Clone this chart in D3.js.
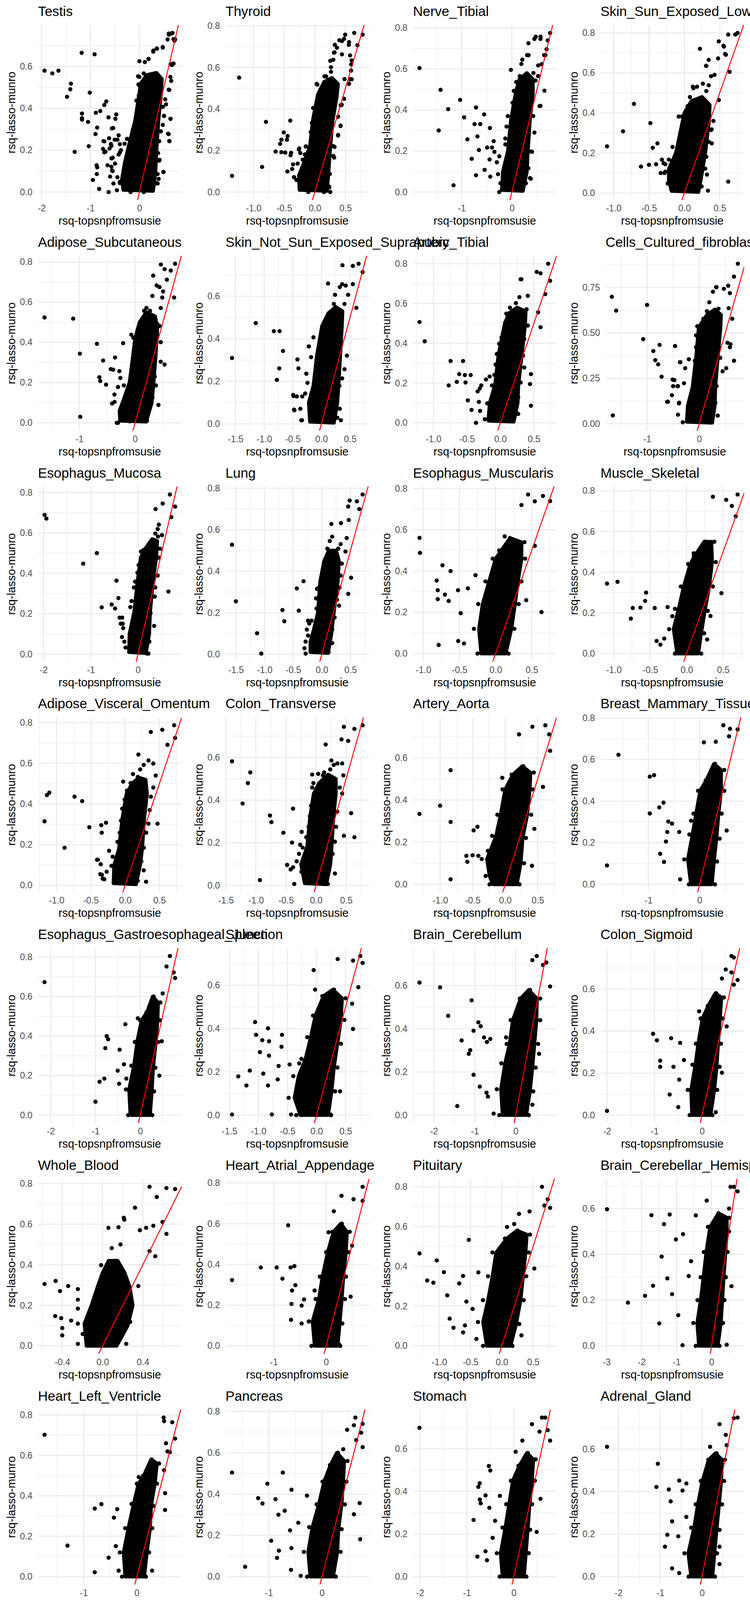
<!DOCTYPE html>
<html>
<head>
<meta charset="utf-8">
<script src="https://cdn.jsdelivr.net/npm/d3@7"></script>
<style>
  body { margin: 0; background: #fff; }
  text { font-family: "Liberation Sans", Arial, Helvetica, sans-serif; }
</style>
</head>
<body>
<svg id="chart"></svg>
<script>
// tissue panels, in facet order (4 per row)
const tissues = [
  "Testis", "Thyroid", "Nerve_Tibial", "Skin_Sun_Exposed_Lower_leg",
  "Adipose_Subcutaneous", "Skin_Not_Sun_Exposed_Suprapubic", "Artery_Tibial", "Cells_Cultured_fibroblasts",
  "Esophagus_Mucosa", "Lung", "Esophagus_Muscularis", "Muscle_Skeletal",
  "Adipose_Visceral_Omentum", "Colon_Transverse", "Artery_Aorta", "Breast_Mammary_Tissue",
  "Esophagus_Gastroesophageal_Junction", "Spleen", "Brain_Cerebellum", "Colon_Sigmoid",
  "Whole_Blood", "Heart_Atrial_Appendage", "Pituitary", "Brain_Cerebellar_Hemisphere",
  "Heart_Left_Ventricle", "Pancreas", "Stomach", "Adrenal_Gland",
  "Brain_Cortex", "Brain_Nucleus_accumbens_basal_ganglia", "Prostate", "Brain_Caudate_basal_ganglia",
  "Brain_Frontal_Cortex_BA9", "Small_Intestine_Terminal_Ileum", "Artery_Coronary", "Brain_Putamen_basal_ganglia",
  "Cells_EBV-transformed_lymphocytes", "Ovary", "Brain_Anterior_cingulate_cortex_BA24", "Brain_Hypothalamus",
  "Liver", "Minor_Salivary_Gland", "Brain_Hippocampus", "Vagina",
  "Brain_Spinal_cord_cervical_c-1", "Uterus", "Brain_Amygdala", "Brain_Substantia_nigra",
  "Kidney_Cortex"
];

const X2 = [-2, -1, 0], X1 = [-1, 0], XH = [-1, -0.5, 0, 0.5], XH15 = [-1.5, -1, -0.5, 0, 0.5];
const Y8 = [0, 0.2, 0.4, 0.6, 0.8], Y6 = [0, 0.2, 0.4, 0.6];

// x-axis breaks per panel
const xTicks = [
  X2, XH, X1, XH,
  X1, XH15, XH, X1,
  X2, XH15, XH, XH,
  XH, XH15, XH, X1,
  X2, XH15, X2, X2,
  [-0.4, 0, 0.4], X1, XH, [-3, -2, -1, 0],
  X1, X1, X2, X2,
  X1, X2, X2, XH,
  XH, X1, XH15, XH,
  [-2, -1, 0, 1], XH15, X2, XH,
  X2, X2, X1, X2,
  X2, X2, XH, X1,
  [-2, -1, 0, 1]
];

// y-axis breaks per panel
const yTicks = [
  Y8, Y8, Y8, Y8,
  Y8, Y8, Y8, [0, 0.25, 0.5, 0.75],
  Y8, Y8, Y8, Y8,
  Y8, Y8, Y8, Y8,
  Y8, Y8, Y8, Y8,
  Y8, Y8, Y8, Y8,
  Y8, Y8, Y8, Y8,
  Y6, Y6, Y6, Y6,
  Y6, Y6, Y6, Y6,
  Y6, Y6, Y6, Y6,
  Y6, Y6, Y6, Y6,
  Y6, Y6, Y6, Y6,
  Y6
];

// outline of the dense, fully overplotted cloud of each panel (rsq-topsnpfromsusie, rsq-lasso-munro)
const cores = [
  [[-.33,.01],[.28,.005],[.33,.1],[.35,.2],[.39,.34],[.44,.46],[.46,.54],[.35,.57],[.15,.56],[.03,.52],[-.01,.46],[-.09,.34],[-.22,.22],[-.3,.14],[-.36,.06]],
  [[-.25,.01],[.2,.005],[.23,.12],[.25,.2],[.29,.34],[.36,.46],[.38,.52],[.28,.55],[.15,.53],[.05,.47],[-.03,.35],[-.08,.22],[-.18,.14],[-.26,.08]],
  [[-.2,.01],[.22,.005],[.3,.1],[.32,.2],[.36,.35],[.42,.48],[.42,.55],[.3,.58],[.15,.55],[.08,.49],[-.02,.35],[-.08,.2],[-.18,.1]],
  [[-.18,.01],[.2,.005],[.25,.1],[.3,.21],[.35,.36],[.36,.44],[.25,.48],[.1,.46],[0,.4],[-.06,.3],[-.12,.2],[-.22,.12],[-.22,.06]],
  [[-.27,.01],[.2,.005],[.3,.1],[.33,.19],[.37,.33],[.4,.47],[.36,.53],[.2,.55],[.08,.5],[0,.42],[-.04,.33],[-.1,.2],[-.2,.12],[-.28,.06]],
  [[-.2,.01],[.22,.005],[.28,.1],[.3,.18],[.33,.32],[.36,.46],[.37,.53],[.25,.55],[.12,.52],[.01,.46],[-.08,.32],[-.14,.18],[-.22,.1]],
  [[-.18,.01],[.2,.005],[.26,.1],[.27,.19],[.32,.34],[.37,.49],[.38,.56],[.25,.58],[.12,.55],[.06,.49],[-.03,.34],[-.08,.19],[-.16,.1]],
  [[-.24,.01],[.25,.005],[.3,.1],[.31,.2],[.36,.37],[.41,.53],[.42,.6],[.3,.63],[.15,.6],[-.01,.53],[-.06,.37],[-.13,.2],[-.22,.1]],
  [[-.19,.01],[.17,.005],[.24,.1],[.26,.21],[.32,.36],[.39,.48],[.41,.56],[.3,.57],[.15,.52],[.06,.48],[-.01,.36],[-.08,.21],[-.18,.1]],
  [[-.2,.01],[.11,.005],[.17,.1],[.21,.2],[.28,.35],[.3,.45],[.25,.5],[.12,.5],[.04,.45],[-.03,.35],[-.07,.2],[-.14,.12],[-.2,.06]],
  [[-.2,0],[.14,0],[.22,.12],[.27,.24],[.31,.35],[.36,.46],[.36,.54],[.2,.56],[.08,.5],[0,.46],[-.09,.35],[-.18,.24],[-.23,.12]],
  [[-.13,0],[.16,0],[.2,.1],[.25,.21],[.31,.33],[.35,.45],[.34,.55],[.24,.55],[.11,.48],[.05,.44],[-.04,.33],[-.11,.22],[-.18,.12]],
  [[-.17,.01],[.16,.005],[.22,.1],[.25,.18],[.28,.33],[.32,.45],[.3,.52],[.2,.53],[.1,.5],[.02,.45],[-.04,.33],[-.09,.18],[-.16,.1]],
  [[-.19,.01],[.17,.005],[.24,.1],[.26,.18],[.29,.32],[.33,.43],[.33,.5],[.2,.52],[.05,.48],[-.04,.43],[-.1,.32],[-.15,.18],[-.25,.1]],
  [[-.19,0],[.18,0],[.24,.1],[.27,.22],[.34,.33],[.38,.45],[.39,.53],[.26,.56],[.12,.52],[0,.45],[-.07,.33],[-.14,.23],[-.28,.12],[-.24,.04]],
  [[-.17,0],[.24,0],[.28,.11],[.33,.22],[.37,.34],[.42,.45],[.42,.55],[.28,.58],[.13,.5],[.01,.45],[-.07,.34],[-.14,.24],[-.23,.12]],
  [[-.22,0],[.22,0],[.26,.12],[.29,.24],[.35,.37],[.39,.48],[.4,.57],[.28,.6],[.15,.52],[.03,.48],[-.07,.37],[-.14,.25],[-.25,.13]],
  [[-.28,0],[.2,0],[.26,.11],[.3,.22],[.36,.33],[.42,.44],[.44,.54],[.28,.58],[.12,.55],[-.02,.46],[-.1,.36],[-.19,.26],[-.31,.18],[-.38,.08]],
  [[-.32,0],[.26,0],[.35,.11],[.41,.22],[.46,.33],[.51,.44],[.52,.54],[.32,.58],[.12,.54],[-.07,.44],[-.15,.33],[-.26,.24],[-.36,.12]],
  [[-.21,0],[.18,0],[.26,.12],[.31,.23],[.34,.34],[.38,.46],[.41,.56],[.28,.58],[.13,.52],[.01,.46],[-.08,.34],[-.14,.24],[-.23,.12]],
  [[-.16,0],[.14,0],[.25,.1],[.3,.2],[.27,.29],[.22,.36],[.15,.42],[.06,.42],[0,.36],[-.05,.29],[-.11,.2],[-.18,.11]],
  [[-.22,0],[.22,0],[.26,.11],[.3,.23],[.33,.34],[.38,.46],[.4,.56],[.28,.6],[.14,.56],[.03,.46],[-.07,.34],[-.14,.23],[-.26,.12]],
  [[-.24,0],[.14,0],[.23,.11],[.3,.23],[.34,.35],[.38,.47],[.4,.56],[.24,.58],[.08,.54],[-.09,.47],[-.15,.35],[-.22,.23],[-.3,.12]],
  [[-.36,0],[.18,0],[.27,.1],[.31,.2],[.35,.3],[.4,.41],[.44,.5],[.44,.56],[.2,.58],[-.04,.52],[-.15,.41],[-.23,.3],[-.31,.2],[-.41,.1]],
  [[-.22,0],[.14,0],[.19,.12],[.25,.24],[.27,.35],[.34,.46],[.38,.56],[.27,.58],[.13,.5],[.03,.46],[-.06,.36],[-.16,.24],[-.25,.12]],
  [[-.22,0],[.21,0],[.29,.12],[.31,.23],[.37,.35],[.4,.46],[.42,.56],[.28,.6],[.16,.54],[.04,.46],[-.06,.35],[-.18,.24],[-.26,.12]],
  [[-.24,0],[.22,0],[.26,.11],[.3,.22],[.34,.34],[.39,.45],[.42,.55],[.28,.58],[.12,.52],[-.02,.45],[-.1,.34],[-.18,.23],[-.28,.11]],
  [[-.26,0],[.25,0],[.3,.11],[.35,.22],[.41,.34],[.46,.45],[.48,.55],[.32,.58],[.16,.55],[.01,.45],[-.1,.34],[-.19,.23],[-.33,.11]],
  [[-.18,0],[.18,0],[.29,.1],[.33,.2],[.37,.3],[.43,.41],[.48,.5],[.36,.54],[.16,.5],[-.01,.41],[-.09,.3],[-.16,.2],[-.26,.1]],
  [[-.24,0],[.22,0],[.27,.1],[.33,.2],[.37,.32],[.43,.43],[.45,.52],[.32,.56],[.13,.52],[-.04,.43],[-.12,.32],[-.19,.2],[-.28,.1]],
  [[-.26,0],[.22,0],[.31,.1],[.36,.22],[.39,.33],[.46,.45],[.49,.55],[.32,.6],[.14,.55],[-.05,.45],[-.14,.33],[-.22,.22],[-.33,.1]],
  [[-.24,0],[.16,0],[.21,.09],[.24,.2],[.29,.3],[.34,.41],[.37,.5],[.24,.52],[.07,.48],[-.09,.41],[-.19,.3],[-.26,.2],[-.33,.1]],
  [[-.14,0],[.11,0],[.22,.1],[.29,.2],[.34,.3],[.4,.4],[.42,.48],[.24,.5],[.03,.45],[-.01,.4],[-.1,.3],[-.16,.2],[-.22,.1]],
  [[-.22,0],[.16,0],[.24,.1],[.3,.2],[.36,.31],[.41,.42],[.45,.52],[.32,.56],[.12,.52],[-.04,.42],[-.12,.31],[-.2,.2],[-.3,.1]],
  [[-.17,0],[.14,0],[.2,.1],[.26,.21],[.3,.32],[.35,.43],[.37,.5],[.24,.52],[.08,.5],[-.07,.43],[-.15,.32],[-.21,.21],[-.27,.1]],
  [[-.21,0],[.13,0],[.22,.1],[.27,.21],[.33,.32],[.37,.43],[.4,.5],[.2,.52],[.04,.5],[-.07,.43],[-.17,.32],[-.24,.21],[-.3,.1]],
  [[-.35,0],[.23,0],[.34,.1],[.41,.22],[.47,.33],[.53,.45],[.56,.56],[.36,.6],[.12,.55],[-.18,.45],[-.3,.33],[-.41,.22],[-.52,.1]],
  [[-.19,0],[.18,0],[.24,.1],[.29,.2],[.34,.3],[.39,.41],[.42,.5],[.28,.54],[.08,.5],[-.12,.41],[-.22,.3],[-.29,.2],[-.31,.1]],
  [[-.26,0],[.16,0],[.3,.1],[.39,.2],[.45,.31],[.5,.42],[.53,.52],[.32,.56],[.08,.52],[-.09,.42],[-.17,.31],[-.25,.2],[-.35,.1]],
  [[-.2,0],[.14,0],[.2,.1],[.25,.2],[.3,.32],[.34,.43],[.37,.5],[.2,.52],[-.01,.48],[-.14,.43],[-.23,.32],[-.34,.2],[-.35,.1]],
  [[-.2,0],[.12,0],[.23,.1],[.3,.21],[.36,.31],[.4,.42],[.4,.5],[.24,.52],[.07,.48],[-.02,.42],[-.1,.31],[-.2,.21],[-.28,.1]],
  [[-.34,0],[.22,0],[.31,.11],[.37,.22],[.42,.34],[.47,.45],[.5,.55],[.32,.58],[.08,.52],[-.14,.45],[-.25,.34],[-.35,.22],[-.44,.11]],
  [[-.25,0],[.1,0],[.21,.1],[.29,.21],[.35,.32],[.41,.43],[.44,.52],[.28,.55],[.08,.5],[-.08,.43],[-.19,.32],[-.27,.21],[-.35,.1]],
  [[-.28,0],[.18,0],[.22,.1],[.28,.2],[.33,.31],[.37,.42],[.4,.5],[.24,.54],[.05,.5],[-.08,.42],[-.17,.31],[-.25,.2],[-.35,.1]],
  [[-.24,0],[.08,0],[.21,.09],[.28,.18],[.35,.28],[.43,.38],[.45,.46],[.28,.5],[.07,.46],[-.09,.38],[-.16,.28],[-.23,.18],[-.28,.09]],
  [[-.34,0],[.15,0],[.22,.1],[.28,.2],[.34,.31],[.4,.42],[.44,.52],[.28,.56],[.04,.52],[-.11,.42],[-.2,.31],[-.3,.2],[-.38,.1]],
  [[-.18,0],[.12,0],[.19,.09],[.25,.19],[.29,.29],[.33,.38],[.34,.45],[.15,.48],[-.05,.45],[-.18,.38],[-.27,.29],[-.32,.19],[-.27,.09]],
  [[-.23,0],[.15,0],[.24,.09],[.29,.19],[.36,.29],[.41,.39],[.43,.48],[.24,.52],[.03,.48],[-.17,.39],[-.26,.29],[-.33,.19],[-.38,.09]],
  []
];

// individually visible points of each panel (rsq-topsnpfromsusie, rsq-lasso-munro)
const scatter = [
  [[-1.94,.58],[-1.78,.567],[-1.655,.58],[-1.18,.665],[-.916,.658],[-1.4,.518],[-1.413,.491],[-1.48,.455],[-1.015,.475],[-.677,.433],[-.717,.416],[-1.174,.375],[-1.174,.353],[-1.174,.346],[-.89,.379],[-.8,.387],[-1.05,.335],[-.632,.357],[-.473,.371],[-.491,.35],[-.863,.308],[-.563,.304],[-.536,.306],[-.898,.277],[-.717,.242],[-1.036,.219],[-1.323,.192],[-.744,.206],[-.717,.19],[-.505,.25],[-.425,.271],[-.584,.23],[-.611,.208],[-.651,.128],[-.876,.128],[-.863,.118],[-.87,.086],[-.951,.058],[-.823,.015],[-.63,0],[-.46,.009],[-.598,.074],[-.531,.041],[-.398,.049],[-.558,.103],[-.571,.161],[-.398,.19],[0,.625],[-.027,.553],[0,.509],[-.013,.46],[-.061,.437],[-.058,.364],[.717,.723],[.677,.76],[.603,.752],[.73,.73],[.637,.611],[.651,.531],[.611,.488],[.544,.419],[.637,.35],[.598,.277],[.611,.244],[.505,.364],[.491,.096],[.412,.154],[.393,.063],[.372,.041],[.292,.03],[.186,.009],[.478,.69],[.359,.685],[.287,.676],[.186,.636],
   [-.18,.257],[-.254,.254],[-.132,.3],[-.049,.364],[-.034,.436],[-.02,.514],[0,.55],[.088,.567],[.112,.621],[.185,.636],[.283,.671],[.356,.686],[.478,.693],[.576,.729],[.6,.757],[.649,.757],[.698,.731],[.663,.607],[.698,.614],[.634,.55],[.6,.489],[.527,.443],[.478,.407],[.634,.35],[.502,.364],[.478,.321],[.439,.29],[.585,.279],[.615,.243],[.405,.243],[.38,.186],[.405,.15],[.493,.096],[.371,.086],[.356,.043],[.21,.007],[.088,0],[-.18,0],[-.302,.017],[-.4,.043],[-.449,.071],[-.546,.1],[-.498,.136],[-.424,.179],[-.4,.229],[-.302,.231],[-.376,.2],[-.546,.164],[-.571,.121],[-.62,.257],[-.571,.221],[-.449,.25],[-.693,.193],[-.732,.243]],
  [[-1.35,.078],[-1.234,.551],[-.859,.121],[-.797,.338],[-.4,.344],[-.506,.287],[-.443,.27],[-.544,.252],[-.565,.232],[-.454,.252],[-.639,.195],[-.544,.192],[-.481,.19],[-.386,.189],[-.395,.177],[-.447,.099],[-.369,.111],[-.354,.133],[-.338,.071],[-.253,.21],[-.236,.188],[-.148,.219],[-.158,.181],[-.196,.156],[.253,0],[.232,.027],[.496,.758],[.643,.766],[.78,.758],[.696,.707],[.559,.722],[.443,.727],[.327,.709],[.312,.671],[.443,.663],[.601,.634],[.591,.585],[.601,.543],[.559,.522],[.475,.449],[.422,.418],[.38,.363],[.422,.32],[.38,.272],[.316,.166],[.306,.221],[.253,.632],[.158,.557],[.042,.517],[-.021,.404],[.485,.544],[.264,.601],
   [-.28,.137],[-.338,.072],[-.299,.058],[-.241,.041],[-.221,.017],[-.144,.22],[-.163,.181],[-.26,.205],[-.066,.289],[-.047,.333],[-.027,.405],[.031,.521],[.089,.492],[.167,.528],[.186,.557],[.264,.579],[.303,.637],[.322,.673],[.361,.695],[.4,.731],[.478,.738],[.555,.709],[.575,.658],[.594,.615],[.575,.543],[.555,.521],[.478,.449],[.439,.42],[.419,.318],[.381,.275],[.322,.217],[.303,.174],[.245,.087],[.237,.022],[.148,0],[-.105,0]],
  [[-1.84,.604],[-1.42,.498],[-1.03,.449],[-1.27,.404],[-.714,.412],[-1.457,.3],[-.952,.364],[-.552,.378],[-.743,.331],[-.629,.331],[-.886,.257],[-.686,.271],[-.438,.312],[-1.162,.033],[-.714,.082],[-.8,.162],[-.657,.205],[-.362,.248],[-.43,.075],[-.543,.108],[-.02,.595],[.762,.775],[.476,.757],[.571,.757],[.714,.739],[.667,.667],[.648,.494],[.552,.419],[.381,.198],[.362,.068],[.333,.667],[.19,.624],[.524,.617],[.43,.58],
   [-.493,.217],[-.396,.217],[-.348,.196],[-.444,.159],[-.3,.145],[-.251,.174],[-.275,.087],[-.227,.043],[-.251,0],[-.13,.232],[-.13,.261],[-.106,.319],[-.082,.37],[.014,.435],[.039,.493],[.087,.536],[.159,.565],[.208,.645],[.304,.667],[.329,.725],[.449,.746],[.57,.746],[.691,.696],[.643,.667],[.594,.623],[.522,.565],[.473,.543],[.57,.42],[.425,.37],[.449,.29],[.401,.196],[.329,.116],[.377,.065],[.28,.043],[.184,.007]],
  [[-1.093,.233],[-.867,.308],[-.713,.445],[-.48,.349],[-.447,.226],[-.38,.248],[-.613,.132],[-.5,.141],[-.4,.144],[-.293,.149],[-.167,.23],[-.28,.1],[.62,.057],[.333,.012],[.22,.72],[.487,.757],[.72,.791],[.62,.791],[.553,.735],[.587,.69],[.64,.605],[.487,.464],[.387,.318],[.387,.248],[.32,.092],[.307,.635],[.12,.531],[-.08,.382],[.253,.122],[.753,.799],
   [-.334,.1],[-.268,.107],[-.318,.167],[-.268,.144],[-.219,.167],[-.169,.152],[-.235,.048],[-.185,.018],[-.086,.211],[-.07,.256],[-.053,.3],[-.02,.345],[.013,.39],[-.036,.382],[.046,.434],[.079,.479],[.129,.523],[.179,.531],[.262,.546],[.311,.509],[.344,.538],[.377,.583],[.427,.59],[.311,.635],[.344,.665],[.477,.672],[.56,.731],[.576,.694],[.411,.36],[.377,.315],[.344,.256],[.311,.181],[.295,.122],[.228,.092],[.245,.033],[.162,.01]],
  [[-1.624,.524],[-1.11,.518],[-.99,.344],[-.983,.03],[-.684,.393],[-.573,.31],[-.359,.325],[-.436,.267],[-.393,.264],[-.64,.227],[-.624,.208],[-.52,.19],[-.282,.257],[-.368,.104],[-.308,0],[-.068,.438],[-.214,.396],[.462,.787],[.718,.791],[.53,.764],[.64,.757],[.325,.732],[.57,.712],[.7,.623],[.487,.623],[.214,.01],[.419,.089],[.53,.29],[.4,.49],
   [-.328,0],[-.413,.096],[-.37,.141],[-.306,.178],[-.264,.223],[-.2,.186],[-.157,.126],[-.094,.178],[-.072,.23],[-.051,.275],[-.03,.334],[-.009,.393],[-.03,.423],[.034,.43],[.119,.505],[.162,.557],[.204,.571],[.268,.557],[.311,.631],[.387,.683],[.438,.675],[.502,.653],[.46,.571],[.438,.482],[.396,.438],[.46,.401],[.46,.304],[.353,.23],[.374,.186],[.311,.126],[.204,.059],[.14,.007],[-.094,.007]],
  [[-1.56,.31],[-1.145,.474],[-.83,.436],[-.73,.436],[-.67,.343],[-.735,.261],[-.777,.207],[-.418,.303],[-.4,.261],[-.485,.131],[-.334,.129],[-.476,.067],[-.35,.017],[-.217,.364],[.117,.66],[.368,.746],[.55,.743],[.65,.753],[.72,.714],[.61,.546],[.55,.657],[.34,.017],
   [-.492,.136],[-.429,.129],[-.471,.064],[-.367,.071],[-.338,.017],[-.263,.236],[-.221,.364],[-.179,.314],[-.242,.193],[-.283,.143],[-.179,.136],[-.138,.407],[-.054,.329],[-.013,.371],[.008,.436],[.05,.471],[.113,.5],[.175,.521],[.217,.564],[.238,.607],[.321,.643],[.363,.657],[.425,.65],[.467,.607],[.404,.564],[.446,.321],[.404,.257],[.363,.214],[.313,.179],[.321,.071],[.279,.029],[.175,.014]],
  [[-1.207,.507],[-1.13,.41],[-.743,.311],[-.557,.311],[-.771,.188],[-.65,.206],[-.614,.245],[-.53,.24],[-.443,.24],[-.52,.203],[-.486,.113],[-.43,.065],[-.364,0],[-.307,.173],[.314,.722],[.714,.8],[.543,.759],[.6,.752],[.743,.714],[.671,.647],[.564,.556],[.6,.481],[.457,.245],[.457,.086],[.443,.195],
   [-.339,.158],[-.285,.188],[-.214,.218],[-.16,.233],[-.321,.105],[-.303,.06],[-.232,.018],[-.196,.098],[-.125,.188],[-.089,.241],[-.071,.293],[-.053,.346],[-.018,.398],[.018,.429],[.071,.504],[.089,.549],[.143,.579],[.214,.534],[.232,.602],[.285,.632],[.303,.722],[.41,.639],[.392,.571],[.41,.489],[.357,.421],[.339,.338],[.357,.278],[.303,.203],[.267,.128],[.267,.045],[.16,.008]],
  [[-1.676,.699],[-1.593,.623],[-1.657,.046],[-1,.654],[-1.074,.466],[-.88,.4],[-.76,.434],[-.843,.35],[-.787,.327],[-.722,.259],[-.6,.121],[-.463,.428],[-.37,.339],[-.51,.243],[-.417,.207],[-.389,.112],[.741,.881],[.667,.81],[.556,.76],[.324,.752],[.667,.347],[.37,.633],[.6,.438],[.185,.586],
   [-.616,.121],[-.523,.157],[-.5,.207],[-.477,.24],[-.407,.207],[-.384,.116],[-.407,.05],[-.315,.008],[-.292,.223],[-.269,.306],[-.199,.355],[-.361,.339],[-.083,.347],[-.06,.421],[-.06,.487],[-.037,.537],[.079,.578],[.148,.62],[.194,.669],[.264,.727],[.333,.752],[.472,.743],[.588,.719],[.565,.636],[.634,.578],[.542,.446],[.588,.421],[.403,.363],[.519,.306],[.449,.289],[.333,.207],[.31,.116],[.356,.045]],
  [[-1.98,.689],[-1.94,.671],[-.87,.5],[-1.16,.448],[-.455,.364],[-.414,.278],[-.768,.232],[-.556,.246],[-.485,.226],[-.333,.181],[-.323,.151],[.646,.31],[.677,.79],[.788,.73],[.525,.745],[.374,.718],[.707,.678],[.424,.582],[.343,.14],[.222,.003],
   [-.388,.181],[-.363,.151],[-.312,.129],[-.338,.085],[-.287,.062],[-.262,.033],[-.161,.233],[-.136,.263],[-.086,.33],[-.06,.359],[-.01,.404],[.015,.441],[.065,.508],[.116,.515],[.191,.522],[.257,.545],[.317,.567],[.368,.597],[.418,.619],[.443,.641],[.509,.589],[.468,.522],[.443,.478],[.418,.389],[.368,.33],[.358,.285],[.267,.203],[.217,.137],[.242,.062],[.191,.003]],
  [[-1.567,.528],[-1.5,.255],[-1.13,.101],[-1.056,.003],[-.687,.213],[-.654,.159],[-.402,.21],[-.318,.352],[-.436,.317],[-.084,.315],[-.1,.269],[.486,.741],[.612,.737],[.712,.77],[.461,.712],[.654,.7],[.168,.628],[.335,.632],[.469,.647],[.511,.369],[.461,.291],[.302,.234],
   [-.303,.029],[-.282,.061],[-.24,.09],[-.261,.119],[-.219,.148],[-.24,.162],[-.177,.162],[-.282,.003],[-.072,.271],[-.093,.22],[-.051,.321],[-.008,.35],[.034,.423],[.076,.452],[.097,.509],[.139,.546],[.181,.567],[.223,.495],[.287,.509],[.329,.531],[.434,.56],[.413,.495],[.35,.437],[.329,.379],[.308,.321],[.265,.263],[.223,.177],[.181,.119],[.181,.054],[.118,.01]],
  [[-1.053,.561],[-1.046,.488],[-.735,.428],[-.623,.4],[-.815,.354],[-.801,.307],[-.702,.286],[-.649,.255],[-.801,.264],[-.52,.307],[-.384,.316],[-.278,.38],[-.483,.196],[-.517,.061],[-.788,.042],[-.437,.049],[.45,.771],[.656,.764],[.543,.738],[.755,.739],[.358,.72],[.636,.201],[.424,.259],[.543,.522],[.126,.568]],
  [[-1.092,.344],[-.948,.353],[-.556,.3],[-.569,.259],[-.739,.224],[-.634,.226],[-.765,.172],[-.438,.224],[-.261,.229],[-.196,.184],[-.412,.062],[-.36,.044],[-.307,.074],[.36,.771],[.542,.756],[.62,.726],[.699,.782],[.673,.675],[.098,.493],[.477,.297],[.327,.185],[.281,.069]],
  [[-1.174,.315],[-1.139,.444],[-1.104,.456],[-.882,.185],[-.736,.436],[-.625,.414],[-.521,.286],[-.34,.259],[-.347,.296],[-.278,.308],[-.361,.055],[-.326,.033],[-.396,.126],[-.028,.51],[.715,.787],[.542,.765],[.375,.754],[.729,.725],[.618,.691],[.472,.303],[.306,.018],[.194,.643],
   [-.408,.126],[-.355,.104],[-.338,.052],[-.303,.03],[-.268,.067],[-.233,.17],[-.181,.141],[-.199,.096],[-.146,.015],[-.111,.214],[-.077,.259],[-.059,.318],[-.042,.377],[-.007,.422],[.028,.466],[.08,.503],[.115,.547],[.167,.496],[.185,.533],[.22,.57],[.272,.592],[.341,.614],[.411,.599],[.446,.54],[.411,.481],[.376,.436],[.359,.37],[.341,.303],[.307,.259],[.272,.185],[.237,.118],[.272,.074],[.185,.022],[.08,.007]],
  [[-1.397,.582],[-1.093,.53],[-1.133,.48],[-1.221,.384],[-.934,.025],[-.766,.328],[-.742,.297],[-.383,.36],[-.543,.247],[-.479,.096],[-.399,.201],[-.239,.251],[-.064,.52],[.463,.744],[.638,.734],[.774,.751],[.535,.678],[.423,.685],[.16,.661],[.638,.226],[.463,.233],[.583,.339],
   [-.482,.096],[-.422,.075],[-.382,.085],[-.362,.007],[-.322,.113],[-.283,.148],[-.263,.191],[-.223,.177],[-.243,.064],[-.163,.226],[-.123,.275],[-.103,.325],[-.084,.374],[-.064,.459],[-.044,.48],[.036,.523],[.056,.48],[.095,.445],[.115,.516],[.135,.53],[.235,.544],[.255,.586],[.294,.565],[.354,.572],[.434,.572],[.454,.516],[.394,.459],[.434,.431],[.354,.346],[.334,.275],[.314,.205],[.275,.148],[.314,.056],[.195,.007]],
  [[-1.316,.334],[-1,.373],[-.838,.541],[-.838,.296],[-.838,.024],[-.485,.256],[-.426,.273],[-.596,.135],[-.581,.107],[-.5,.138],[-.412,.135],[-.265,.159],[-.044,.505],[.419,.747],[.618,.754],[.213,.711],[.676,.711],[.691,.633],[.581,.462],[.449,.263],[.412,.088]],
  [[-1.806,.091],[-1.583,.623],[-.972,.518],[-.889,.525],[-.972,.341],[-.787,.37],[-.704,.393],[-.611,.302],[-.537,.292],[-.63,.252],[-.657,.206],[-.769,.147],[-.694,.108],[-.38,.024],[-.167,.306],[-.398,.252],[.463,.765],[.741,.745],[.593,.748],[.574,.712],[.083,.683],[.315,.686],[.528,.259]],
  [[-2.139,.673],[-1,.068],[-.909,.169],[-.802,.185],[-.749,.4],[-.717,.384],[-.78,.339],[-.46,.331],[-.332,.46],[-.503,.225],[-.471,.159],[-.364,.257],[-.31,.185],[.663,.805],[.749,.722],[.588,.752],[.78,.694],[.503,.616],[.481,.374],[.428,.2],[-.053,.49]],
  [[-1.455,.003],[-1.347,.179],[-1.207,.137],[-1.149,.206],[-1.058,.43],[-1.041,.371],[-.934,.346],[-.975,.291],[-.835,.401],[-.818,.341],[-.818,.275],[-.917,.192],[-.835,.137],[-.769,.003],[-.653,.227],[-.669,.165],[-.603,.316],[-.595,.371],[-.438,.003],[-.463,.234],[-.298,.239],[-.05,.67],[-.025,.58],[.364,.721],[.628,.714],[.752,.735],[.793,.703],[.719,.591],[.612,.515],[.628,.398],[.405,.11],[.24,.003]],
  [[-2.35,.614],[-1.848,.592],[-1.076,.532],[-1.65,.46],[-1.322,.346],[-.912,.43],[-.854,.412],[-1.029,.391],[-1.111,.301],[-1.146,.284],[-.772,.36],[-.702,.339],[-.62,.353],[-1.029,.187],[-1.427,.042],[-.877,.132],[-.713,.104],[-.678,.086],[-.538,.007],[-.234,.36],[.409,.718],[.515,.737],[.667,.696],[.749,.707],[.842,.596],[.573,.284],[.409,.048]],
  [[-2,.02],[-1.03,.387],[-.95,.356],[-.65,.366],[-.46,.344],[-.88,.259],[-.88,.23],[-.6,.23],[-.38,.262],[-.68,.098],[-.5,.038],[-.48,.169],[-.06,.494],[.62,.757],[.67,.75],[.5,.693],[.62,.679],[.75,.643],[.42,.65],[.67,.621],[.52,.422],[.42,.202],[.29,.014]],
  [[-.576,.305],[-.466,.32],[-.422,.27],[-.341,.295],[-.245,.28],[-.47,.147],[-.41,.137],[-.4,.088],[-.4,.052],[-.312,.125],[-.245,.228],[-.245,.184],[-.245,.11],[-.245,.01],[-.13,.155],[-.197,.059],[.466,.784],[.634,.778],[.72,.773],[.538,.734],[.322,.681],[.211,.631],[.216,.622],[.058,.582],[.158,.585],[.37,.57],[.432,.582],[.504,.592],[.595,.611],[.634,.552],[-.014,.398],[.091,.482],[.178,.5],[.523,.442],[.466,.467],[.355,.295],[.235,.01],[.274,.118]],
  [[-1.798,.323],[-1.248,.385],[-.945,.385],[-.679,.385],[-.606,.392],[-.725,.592],[-.835,.33],[-.587,.298],[-.651,.272],[-.661,.206],[-.422,.228],[-.468,.198],[-.67,.128],[-.468,.11],[-.33,.12],[-.22,.272],[.046,.558],[.294,.737],[.523,.72],[.697,.781],[.697,.712],[.147,.661],[.495,.492],[.468,.242],[.248,.007]],
  [[-1.313,.465],[-1.191,.329],[-1.092,.318],[-1.038,.43],[-.924,.371],[-.87,.254],[-.832,.137],[-.771,.091],[-.679,.314],[-.618,.352],[-.527,.533],[-.565,.223],[-.618,.068],[-.588,.103],[-.374,.37],[-.466,.186],[-.405,.035],[-.26,.148],[.641,.8],[.733,.737],[.771,.694],[.679,.706],[.443,.676],[.275,.664],[.198,.613],[.084,.598],[.519,.389],[.313,.053]],
  [[-2.985,.597],[-1.715,.571],[-1.194,.574],[-1.357,.532],[-2.388,.189],[-1.9,.219],[-1.669,.263],[-1.493,.098],[-1.425,.39],[-1.262,.295],[-1.126,.226],[-1.018,.465],[-.814,.488],[-.95,.134],[-.828,.003],[-.651,.305],[-.583,.37],[-.448,.57],[-.136,.635],[.543,.695],[.638,.695],[.746,.675],[.502,.6],[.57,.261],[.434,.005]],
  [[-1.739,.702],[-1.306,.154],[-.793,.022],[-.793,.337],[-.667,.359],[-.369,.334],[-.432,.292],[-.532,.094],[-.396,.151],[-.342,.03],[.036,.493],[.505,.787],[.514,.769],[.667,.764],[.721,.683],[.55,.66],[.577,.62],[.622,.616],[.514,.527],[.532,.413],[.532,.33],[.288,.03]],
  [[-1.691,.504],[-1.445,.048],[-1.027,.45],[-.736,.504],[-1.2,.38],[-1.118,.354],[-.873,.375],[-.818,.3],[-.7,.319],[-.573,.421],[-.282,.392],[-.6,.224],[-.955,.174],[-.809,.126],[-.845,.091],[-.573,.138],[-.582,.033],[-.4,.004],[-.445,.261],[.627,.77],[.6,.733],[.764,.74],[.736,.697],[.473,.711],[.645,.661],[.4,.617],[.764,.627],[.718,.181],[.709,.356],[.6,.302]],
  [[-2.01,.698],[-.531,.519],[-.5,.498],[-.724,.438],[-.755,.421],[-.724,.362],[-.704,.344],[-.602,.381],[-.857,.266],[-.52,.323],[-.296,.379],[-.398,.262],[-.449,.182],[-.602,.119],[-.776,.094],[-.571,.077],[.388,.715],[.602,.746],[.673,.746],[.551,.68],[.724,.687],[.776,.638],[.041,.586],[.184,.638],[.49,.21],[.571,.365]],
  [[-2.273,.611],[-1.057,.531],[-1.091,.422],[-.795,.41],[-.545,.452],[-.375,.438],[-.75,.354],[-.466,.405],[-.716,.26],[-.83,.197],[-.886,.141],[-.568,.19],[-.375,.281],[-.716,.039],[-.545,.017],[.42,.717],[.761,.745],[.852,.748],[.568,.667],[.591,.618],[.193,.611],[.42,.059],[.42,.141]],
  [[-1.731,.671],[-1.574,.574],[-1.139,.539],[-.833,.553],[-.991,.398],[-.741,.389],[-.88,.31],[-.926,.273],[-.991,.249],[-.713,.306],[-.574,.332],[-.685,.257],[-.787,.144],[-.62,.124],[-.713,.161],[-1.139,.007],[-.463,.264],[-.352,.227],[-.481,.042],[-.343,.005],[.602,.699],[.759,.688],[.417,.662],[.556,.669],[.583,.625],[.806,.603],[.065,.599],[.722,.473],[.509,.22],[.157,.003]],
  [[-2.341,.715],[-2.045,.546],[-1.091,.539],[-1.239,.351],[-.716,.344],[-.636,.351],[-.898,.271],[-.636,.285],[-1.011,.095],[-.807,.214],[-.67,.146],[-.58,.112],[-.75,.03],[-.659,.005],[-.375,.317],[.216,.689],[.727,.722],[.33,.619],[.591,.61],[.761,.596],[.477,.128],[.557,.494]],
  [[-2.638,.623],[-2.188,.163],[-1.513,.444],[-1.125,.444],[-1.075,.504],[-.913,.408],[-1.063,.261],[-1,.328],[-.95,.149],[-.975,.039],[-.975,0],[-.6,.383],[-.538,.325],[-.788,.304],[-.725,.246],[-.725,.053],[-.5,.067],[-.45,.01],[.75,.755],[.688,.726],[.775,.662],[.3,.683],[0,.504],[.65,.239],[.525,.143],[.4,.01]],
  [[-1.175,.339],[-1.139,.424],[-.98,.565],[-1.002,.039],[-.93,.003],[-.944,.166],[-.858,.297],[-.8,.327],[-.851,.107],[-.743,.201],[-.656,.131],[-.584,.186],[-.526,.048],[-.404,.358],[-.368,.316],[-.389,.029],[.281,.692],[.411,.692],[.534,.678],[.642,.676],[.714,.637],[.807,.626],[.267,.641],[.483,.499],[.678,.489],[.461,.342]],
  [[-1.343,.54],[-1.236,.431],[-1.29,.343],[-1.252,.355],[-1.038,.352],[-.97,.4],[-.955,.479],[-1.046,.121],[-.807,.297],[-.815,.139],[-.785,.13],[-.617,.247],[-.586,.435],[-.274,.439],[-.5,.297],[-.388,.327],[-.548,.25],[-.601,.189],[-.601,.168],[-.586,.037],[-.487,.041],[-.396,.022],[-.426,.085],[-.274,.056],[-.069,.597],[.046,.581],[.236,.575],[.487,.672],[.327,.638],[.525,.644],[.655,.606],[.746,.604],[.617,.494],[.632,.403],[.465,.146],[.388,.037],[.137,.009]],
  [[-1.783,.326],[-1.415,.26],[-1.179,.449],[-1.236,.426],[-1.009,.289],[-.962,.276],[-.925,.234],[-.84,.207],[-.783,.346],[-.67,.389],[-.585,.426],[-.953,.025],[-.906,.003],[-.774,.052],[-.698,.073],[-.538,.04],[-.575,.139],[-.585,.201],[-.302,.564],[.217,.673],[.434,.646],[.557,.67],[.623,.657],[.736,.699],[.783,.699],[.547,.591],[.717,.482],[.557,.293],[.264,.036]],
  [[-1.519,.174],[-.893,.071],[-.678,.411],[-.704,.33],[-.721,.312],[-.524,.321],[-.378,.323],[-.738,.229],[-.738,.177],[-.678,.205],[-.549,.147],[-.618,.12],[-.524,.081],[-.421,.106],[-.06,.593],[.369,.727],[.652,.721],[.738,.699],[.249,.672],[.352,.662],[.824,.584],[.464,.644],[.567,.257],[.292,.04]],
  [[-1.352,.197],[-1.266,.294],[-1.125,.047],[-1.063,.139],[-.945,.115],[-1.141,.382],[-.961,.426],[-.891,.431],[-.961,.355],[-.828,.384],[-.789,.5],[-.695,.307],[-.828,.276],[-.672,.244],[-.672,.193],[-.695,.132],[-.727,.007],[-.555,.098],[-.555,.065],[-.414,.004],[-.336,.409],[.227,.655],[.461,.661],[.5,.671],[.773,.712],[.75,.595],[.68,.547],[.617,.422],[.523,.146],[.211,.008]],
  [[-2.722,.619],[-2.47,.629],[-2.457,.244],[-1.938,.587],[-1.859,.6],[-2.005,.536],[-1.965,.38],[-1.873,.394],[-1.766,.408],[-1.434,.5],[-1.142,.543],[-1.009,.514],[-.797,.479],[-.876,.421],[-.903,.364],[-1.169,.236],[-1.009,.215],[-1.235,.12],[-1.262,.017],[-1.076,.003],[-.943,.003],[-.837,.132],[-.744,.053],[-.465,.407],[.491,.762],[.531,.751],[.465,.712],[.916,.736],[.784,.662],[.85,.65],[.717,.189],[.664,.168],[.398,.017]],
  [[-1.42,.574],[-.952,.433],[-.952,.197],[-.936,.302],[-.912,.281],[-.843,.097],[-.859,.318],[-.739,.291],[-.723,.255],[-.675,.134],[-.699,.169],[-.578,.042],[-.538,.288],[-.498,.324],[-.442,.383],[-.434,.137],[-.378,.206],[-.233,.368],[-.112,.475],[.129,.58],[.305,.596],[.41,.633],[.627,.694],[.763,.681],[.731,.659],[.643,.58],[.57,.495],[.602,.46],[.386,.121],[.225,.009]],
  [[-2.328,.549],[-2.147,.389],[-1.898,.389],[-1.333,.389],[-1.051,.536],[-.972,.496],[-1.22,.333],[-1.186,.299],[-1.593,.243],[-1.277,.243],[-1.13,.229],[-1.051,.183],[-.994,.096],[-.881,.043],[-1.073,.016],[-.915,.013],[-.825,.169],[-.508,0],[-.429,.323],[-.316,.403],[.588,.685],[.757,.705],[.701,.625],[.249,.596],[.531,.429],[.508,.076],[.249,.023]],
  [[-1.278,.394],[-1.248,.218],[-.925,.355],[-.91,.273],[-.774,.442],[-.812,.36],[-.677,.387],[-.624,.344],[-.812,.303],[-.85,.187],[-.872,.146],[-.647,.119],[-.586,.085],[-.677,.037],[-.526,.003],[-.602,.2],[-.474,.248],[-.211,.344],[-.173,.476],[.632,.722],[.782,.658],[.617,.623],[.752,.617],[.519,.617],[.391,.576],[.241,.569],[.564,.089]],
  [[-1.874,.166],[-1.146,.152],[-.864,.192],[-.786,.195],[-.689,.186],[-.854,.123],[-.854,.042],[-.835,0],[-.689,.075],[-.621,.081],[-.515,.166],[-.466,.121],[-.427,.438],[-.437,.013],[-.35,.269],[-.301,.277],[-.204,.288],[.68,.688],[.553,.658],[.427,.647],[.777,.595],[.621,.584],[.524,.562],[.35,.558],[.136,.481],[.476,.318],[.33,.113]],
  [[-2.335,.127],[-2.046,.353],[-1.723,.548],[-1.237,.001],[-1.237,.364],[-1.145,.371],[-.948,.336],[-1.214,.167],[-1.121,.188],[-1.006,.251],[-.948,.213],[-.798,.325],[-.809,.103],[-.751,.153],[-.601,.376],[-.37,.367],[-.543,.28],[-.682,.099],[-.601,.007],[-.173,.597],[.705,.749],[.555,.703],[.439,.703],[.613,.633],[.751,.597],[.636,.612],[.289,.597],[.555,.164],[.728,.386]],
  [[-1.687,.425],[-1.313,.531],[-1.209,.464],[-1.2,.371],[-.965,.266],[-1.07,.239],[-1.139,.007],[-1.096,.007],[-.983,.161],[-.835,.083],[-.791,.145],[-.635,.155],[-.574,.257],[-.591,.226],[-.53,.081],[-.548,.031],[-.47,.179],[-.417,.233],[-.183,.452],[-.113,.421],[.183,.596],[.443,.623],[.53,.603],[.687,.717],[.617,.565],[.687,.533],[.53,.358],[.539,.091],[.235,.004]],
  [[-2.304,.433],[-1.25,.511],[-.413,.571],[-1.391,.34],[-.946,.429],[-.598,.414],[-.783,.34],[-.739,.366],[-.957,.248],[-.902,.255],[-.739,.278],[-.87,.209],[-1,.134],[-.783,.134],[-.62,.14],[-.641,.084],[-1.446,.009],[-.489,.035],[-.435,0],[.63,.692],[.598,.633],[.467,.607],[.511,.567],[.402,.528],[.543,.288],[.435,.206],[.576,0],[.348,.003]],
  [[-2.4,.495],[-1.4,.513],[-1.494,.287],[-1.494,.12],[-1.176,.291],[-1.106,.275],[-1.047,.257],[-1,.341],[-.788,.216],[-.765,.287],[-.624,.343],[-.6,.044],[-.588,.192],[-.494,.273],[-.4,.243],[-.4,.125],[-.341,.005],[-.141,.323],[.118,.634],[.071,.592],[-.082,.51],[.682,.636],[.565,.622],[.8,.613],[.718,.592],[.565,.132],[.329,.044],[.188,0],[.8,.409]],
  [[-2.219,.417],[-1.792,.675],[-1.541,.515],[-1.508,.257],[-1.322,.255],[-1.311,.129],[-1.224,.043],[-1.268,.417],[-1.049,.397],[-1.049,.352],[-.962,.341],[-1.202,.21],[-.885,.192],[-.776,.46],[-.546,.458],[-.546,.339],[-.689,.183],[-.743,.088],[-.568,.014],[-.6,.041],[-.525,.226],[.208,.675],[.044,.607],[.678,.714],[.699,.637],[.754,.463],[.514,.521],[.426,.057],[.295,.014]],
  [[-1.304,.239],[-1.281,.509],[-1.183,.189],[-1.055,.484],[-1.093,.296],[-.98,.096],[-.882,.17],[-.852,.246],[-.829,.099],[-.769,.323],[-.656,.333],[-.678,.043],[-.565,.052],[-.414,.404],[-.279,.586],[-.467,.002],[-.377,.04],[-.015,.565],[.053,.561],[.113,.575],[.377,.621],[.663,.655],[.754,.602],[.618,.462],[.58,.304],[.279,0],[.324,.043]],
  [[-1.781,.165],[-1.686,.148],[-1.4,.482],[-1.305,.258],[-1.21,.129],[-1.143,.216],[-.981,.155],[-.905,.326],[-.733,.355],[-.886,.256],[-.857,.114],[-.838,.009],[-.667,.028],[-.59,.025],[-.619,.256],[-.429,.294],[-.381,.554],[-.171,.425],[-.429,.006],[.095,.003],[.524,.669],[.4,.641],[.667,.664],[.762,.616],[.352,.59],[.81,.505],[.638,.285],[.619,0],[.381,.015]],
  [[-2.756,.205],[-1.955,.475],[-1.78,.287],[-1.496,.294],[-1.094,.307],[-1.035,.406],[-.995,.257],[-.883,.283],[-1.154,.199],[-.89,.193],[-1.318,.102],[-1.187,.091],[-1.595,.034],[-.778,.008],[-.679,.218],[-.593,.221],[-.534,.211],[-.514,.182],[-.666,.102],[-.633,.086],[-.613,.13],[-.567,.126],[-.527,.112],[-.6,.048],[-.567,.041],[-.494,.065],[-.382,.063],[-.435,.036],[-.402,.083],[-.389,.128],[-.613,0],[-.527,.013],[-.396,-.012],[-.349,.019],[-.25,.004],[-.237,.052],[-.461,.391],[-.349,.381],[-.303,.44],[-.171,.414],[-.152,.495],[.066,.553],[.857,.543],[.059,.42],[.31,.423],[.244,.395],[.521,.404],[.475,.489],[.389,.459],[.376,.442],[.488,.466],[.574,.444],[.587,.418],[.033,.365],[.198,.363],[.363,.363],[.62,.367],[.574,.359],[.508,.351],[.244,.343],[-.185,.352],[-.27,.342],[-.231,.327],[-.112,.33],[.152,.326],[.356,.332],[-.33,.311],[-.02,.303],[.178,.293],[.376,.316],[.422,.304],[.639,.303],[.488,.291],[.554,.284],[-.349,.289],[-.119,.277],[-.033,.29],[.396,.277],[-.066,.263],[.092,.258],[.244,.271],[.442,.258],[-.283,.244],[-.152,.242],[-.086,.244],[.363,.247],[-.165,.228],[.079,.228],[.376,.231],[-.303,.214],[-.099,.213],[-.033,.213],[.112,.207],[.455,.211],[-.264,.197],[-.231,.188],[-.152,.185],[.277,.199],[.178,.188],[.356,.188],[.686,.179],[-.039,.168],[.059,.162],[.211,.17],[-.303,.157],[-.251,.158],[-.119,.154],[.442,.158],[-.086,.146],[.125,.14],[.198,.14],[-.231,.138],[-.02,.133],[-.218,.127],[.079,.124],[.244,.133],[-.152,.119],[.356,.119],[.013,.114],[-.119,.108],[.046,.106],[.079,.1],[-.033,.099],[.389,.1],[.508,.101],[-.283,.095],[.112,.095],[.296,.095],[.475,.094],[.705,.083],[.165,.076],[.224,.074],[-.066,.071],[.026,.068],[-.165,.058],[-.119,.052],[.277,.056],[.211,.05],[.046,.039],[-.198,.026],[-.152,.032],[.013,.023],[.066,.018],[.296,.02],[.409,.004],[0,-.014]]
];

// points sitting on the outer, ragged rim of each dense cloud
const rims = [
  [], [], [], [], [], [], [], [], [], [],
  [[-.25,0],[.18,0],[.26,.12],[.32,.24],[.36,.35],[.41,.46],[.4,.54],[.2,.56],[.05,.5],[-.04,.46],[-.14,.35],[-.24,.24],[-.3,.12]],
  [[-.16,0],[.2,0],[.24,.1],[.29,.21],[.36,.33],[.4,.45],[.38,.55],[.25,.55],[.1,.48],[.02,.44],[-.08,.33],[-.16,.22],[-.24,.12]],
  [], [],
  [[-.24,0],[.22,0],[.29,.1],[.32,.22],[.4,.33],[.43,.45],[.44,.53],[.28,.56],[.1,.52],[-.04,.45],[-.12,.33],[-.2,.23],[-.36,.12],[-.3,.04]],
  [[-.21,0],[.3,0],[.34,.11],[.39,.22],[.43,.34],[.48,.45],[.48,.55],[.3,.58],[.12,.5],[-.03,.45],[-.12,.34],[-.2,.24],[-.3,.12]],
  [[-.27,0],[.27,0],[.31,.12],[.34,.24],[.4,.37],[.44,.48],[.45,.57],[.3,.6],[.14,.52],[0,.48],[-.12,.37],[-.2,.25],[-.32,.13]],
  [[-.35,0],[.25,0],[.32,.11],[.36,.22],[.42,.33],[.48,.44],[.5,.54],[.3,.58],[.1,.55],[-.06,.46],[-.16,.36],[-.26,.26],[-.4,.18],[-.48,.08]],
  [[-.4,0],[.32,0],[.43,.11],[.49,.22],[.55,.33],[.6,.44],[.6,.54],[.35,.58],[.1,.54],[-.12,.44],[-.22,.33],[-.35,.24],[-.46,.12]],
  [[-.26,0],[.22,0],[.32,.12],[.37,.23],[.4,.34],[.44,.46],[.46,.56],[.3,.58],[.12,.52],[-.03,.46],[-.13,.34],[-.2,.24],[-.3,.12]],
  [],
  [[-.28,0],[.27,0],[.31,.11],[.36,.23],[.38,.34],[.43,.46],[.45,.56],[.3,.6],[.12,.56],[0,.46],[-.12,.34],[-.2,.23],[-.33,.12]],
  [[-.3,0],[.17,0],[.28,.11],[.35,.23],[.39,.35],[.43,.47],[.45,.56],[.25,.58],[.05,.54],[-.15,.47],[-.22,.35],[-.3,.23],[-.38,.12]],
  [[-.45,0],[.23,0],[.33,.1],[.37,.2],[.41,.3],[.46,.41],[.5,.5],[.5,.56],[.2,.58],[-.1,.52],[-.22,.41],[-.31,.3],[-.4,.2],[-.52,.1]],
  [[-.28,0],[.17,0],[.23,.12],[.29,.24],[.31,.35],[.38,.46],[.42,.56],[.28,.58],[.12,.5],[0,.46],[-.1,.36],[-.22,.24],[-.32,.12]],
  [[-.28,0],[.26,0],[.35,.12],[.37,.23],[.43,.35],[.46,.46],[.48,.56],[.3,.6],[.15,.54],[.01,.46],[-.1,.35],[-.24,.24],[-.34,.12]],
  [[-.3,0],[.27,0],[.32,.11],[.35,.22],[.39,.34],[.45,.45],[.47,.55],[.3,.58],[.1,.52],[-.06,.45],[-.16,.34],[-.24,.23],[-.36,.11]],
  [[-.32,0],[.31,0],[.36,.11],[.42,.22],[.48,.34],[.53,.45],[.55,.55],[.35,.58],[.15,.55],[-.03,.45],[-.15,.34],[-.26,.23],[-.42,.11]],
  [[-.23,0],[.23,0],[.35,.1],[.39,.2],[.44,.3],[.5,.41],[.55,.5],[.4,.54],[.15,.5],[-.05,.41],[-.14,.3],[-.22,.2],[-.33,.1]],
  [[-.3,0],[.27,0],[.33,.1],[.39,.2],[.44,.32],[.5,.43],[.52,.52],[.35,.56],[.12,.52],[-.09,.43],[-.18,.32],[-.26,.2],[-.36,.1]],
  [[-.33,0],[.28,0],[.38,.1],[.43,.22],[.46,.33],[.53,.45],[.56,.55],[.35,.6],[.12,.55],[-.1,.45],[-.2,.33],[-.29,.22],[-.42,.1]],
  [[-.3,0],[.2,0],[.25,.09],[.28,.2],[.34,.3],[.39,.41],[.42,.5],[.25,.52],[.05,.48],[-.15,.41],[-.26,.3],[-.34,.2],[-.42,.1]],
  [[-.18,0],[.14,0],[.27,.1],[.35,.2],[.4,.3],[.46,.4],[.48,.48],[.25,.5],[0,.45],[-.05,.4],[-.15,.3],[-.22,.2],[-.28,.1]],
  [[-.27,0],[.2,0],[.29,.1],[.36,.2],[.42,.31],[.48,.42],[.52,.52],[.35,.56],[.1,.52],[-.08,.42],[-.18,.31],[-.27,.2],[-.38,.1]],
  [[-.21,0],[.18,0],[.24,.1],[.31,.21],[.35,.32],[.4,.43],[.42,.5],[.25,.52],[.05,.5],[-.12,.43],[-.21,.32],[-.28,.21],[-.34,.1]],
  [[-.26,0],[.16,0],[.27,.1],[.32,.21],[.38,.32],[.42,.43],[.45,.5],[.2,.52],[0,.5],[-.12,.43],[-.24,.32],[-.32,.21],[-.38,.1]],
  [[-.44,0],[.29,0],[.42,.1],[.49,.22],[.56,.33],[.62,.45],[.65,.56],[.4,.6],[.1,.55],[-.27,.45],[-.4,.33],[-.53,.22],[-.66,.1]],
  [[-.24,0],[.22,0],[.29,.1],[.35,.2],[.4,.3],[.45,.41],[.48,.5],[.3,.54],[.05,.5],[-.18,.41],[-.3,.3],[-.38,.2],[-.4,.1]],
  [[-.32,0],[.2,0],[.36,.1],[.47,.2],[.53,.31],[.59,.42],[.62,.52],[.35,.56],[.05,.52],[-.15,.42],[-.24,.31],[-.33,.2],[-.44,.1]],
  [[-.25,0],[.17,0],[.24,.1],[.3,.2],[.35,.32],[.39,.43],[.42,.5],[.2,.52],[-.05,.48],[-.21,.43],[-.32,.32],[-.44,.2],[-.45,.1]],
  [[-.25,0],[.15,0],[.28,.1],[.35,.21],[.42,.31],[.46,.42],[.45,.5],[.25,.52],[.05,.48],[-.06,.42],[-.15,.31],[-.27,.21],[-.36,.1]],
  [[-.43,0],[.27,0],[.38,.11],[.44,.22],[.5,.34],[.55,.45],[.58,.55],[.35,.58],[.05,.52],[-.22,.45],[-.34,.34],[-.45,.22],[-.56,.11]],
  [[-.31,0],[.13,0],[.25,.1],[.34,.21],[.41,.32],[.47,.43],[.5,.52],[.3,.55],[.05,.5],[-.14,.43],[-.27,.32],[-.36,.21],[-.45,.1]],
  [[-.35,0],[.22,0],[.27,.1],[.33,.2],[.38,.31],[.43,.42],[.46,.5],[.25,.54],[.02,.5],[-.13,.42],[-.24,.31],[-.33,.2],[-.45,.1]],
  [[-.3,0],[.1,0],[.25,.09],[.33,.18],[.41,.28],[.5,.38],[.52,.46],[.3,.5],[.05,.46],[-.14,.38],[-.22,.28],[-.3,.18],[-.36,.09]],
  [[-.42,0],[.19,0],[.26,.1],[.33,.2],[.4,.31],[.46,.42],[.5,.52],[.3,.56],[0,.52],[-.17,.42],[-.28,.31],[-.39,.2],[-.48,.1]],
  [[-.23,0],[.15,0],[.23,.09],[.3,.19],[.34,.29],[.38,.38],[.38,.45],[.15,.48],[-.1,.45],[-.26,.38],[-.36,.29],[-.42,.19],[-.35,.09]],
  [[-.29,0],[.19,0],[.29,.09],[.35,.19],[.43,.29],[.48,.39],[.5,.48],[.25,.52],[0,.48],[-.24,.39],[-.35,.29],[-.43,.19],[-.48,.09]],
  []
];

const W = 1920, H = 7680, nCols = 4, nRows = 13;
const colW = W / nCols, rowH = H / nRows;
const T = 64, B = 512, R = 465;       // panel box inside each facet cell
const labLeft = 51;                    // left edge of y tick labels
const grid = "#EBEBEB", tickCol = "#4D4D4D";

const svg = d3.select("#chart").attr("width", W).attr("height", H);
svg.append("rect").attr("width", W).attr("height", H).attr("fill", "#fff");

// decimals shared by a set of breaks, as scales::label_number does
const labeller = ticks => {
  const dec = d3.max(ticks, t => {
    const s = String(t);
    return s.includes(".") ? s.split(".")[1].length : 0;
  }) || 0;
  return t => t.toFixed(dec);
};

// ggplot2 regular minor breaks: midpoints of the (extended) major breaks
function minorBreaks(b, lim) {
  if (b.length < 2) return [];
  const bd = b[1] - b[0];
  const e = b.slice();
  if (lim[0] < e[0]) e.unshift(e[0] - bd);
  if (lim[1] > e[e.length - 1]) e.push(e[e.length - 1] + bd);
  const m = [];
  for (let i = 0; i < e.length - 1; i++) m.push((e[i] + e[i + 1]) / 2);
  return m.filter(v => v >= lim[0] && v <= lim[1]);
}

const expand = ext => {
  const pad = (ext[1] - ext[0]) * 0.05;
  return [ext[0] - pad, ext[1] + pad];
};

tissues.forEach((name, i) => {
  const g = svg.append("g")
    .attr("transform", `translate(${(i % nCols) * colW},${Math.floor(i / nCols) * rowH})`);

  const pts = scatter[i].concat(rims[i]);
  const all = pts.concat(cores[i]);
  const xDom = expand(d3.extent(all, d => d[0]));
  const yDom = expand(d3.extent(all, d => d[1]));
  const xt = xTicks[i].filter(t => t >= xDom[0] && t <= xDom[1]);
  const yt = yTicks[i].filter(t => t >= yDom[0] && t <= yDom[1]);

  const y = d3.scaleLinear().domain(yDom).range([B, T]);

  // y tick labels first, so the panel can start right after the widest one
  const yAxis = g.append("g")
    .call(d3.axisLeft(y).tickValues(yt).tickFormat(labeller(yt)).tickSize(0).tickPadding(0));
  yAxis.select(".domain").remove();
  yAxis.selectAll("text")
    .attr("fill", tickCol)
    .style("font-size", "23.2px")
    .style("font-family", "'Liberation Sans', Arial, Helvetica, sans-serif");
  let maxW = 0;
  yAxis.selectAll("text").each(function () { maxW = Math.max(maxW, this.getComputedTextLength()); });
  yAxis.attr("transform", `translate(${labLeft + maxW},0)`);
  const L = labLeft + maxW + 14;

  const x = d3.scaleLinear().domain(xDom).range([L, R]);

  // grid
  const gridG = g.append("g");
  gridG.selectAll(".vminor").data(minorBreaks(xt, xDom)).join("line")
    .attr("x1", d => x(d)).attr("x2", d => x(d)).attr("y1", T).attr("y2", B)
    .attr("stroke", grid).attr("stroke-width", 1.4);
  gridG.selectAll(".hminor").data(minorBreaks(yt, yDom)).join("line")
    .attr("y1", d => y(d)).attr("y2", d => y(d)).attr("x1", L).attr("x2", R)
    .attr("stroke", grid).attr("stroke-width", 1.4);
  gridG.selectAll(".vmajor").data(xt).join("line")
    .attr("x1", d => x(d)).attr("x2", d => x(d)).attr("y1", T).attr("y2", B)
    .attr("stroke", grid).attr("stroke-width", 2.8);
  gridG.selectAll(".hmajor").data(yt).join("line")
    .attr("y1", d => y(d)).attr("y2", d => y(d)).attr("x1", L).attr("x2", R)
    .attr("stroke", grid).attr("stroke-width", 2.8);

  // x tick labels
  const xAxis = g.append("g")
    .attr("transform", `translate(0,${B})`)
    .call(d3.axisBottom(x).tickValues(xt).tickFormat(labeller(xt)).tickSize(0).tickPadding(12.5));
  xAxis.select(".domain").remove();
  xAxis.selectAll("text")
    .attr("fill", tickCol)
    .style("font-size", "23.2px")
    .style("font-family", "'Liberation Sans', Arial, Helvetica, sans-serif");

  // clipped plotting area
  const clipId = `clip${i}`;
  g.append("clipPath").attr("id", clipId)
    .append("rect").attr("x", L).attr("y", T).attr("width", R - L).attr("height", B - T);
  const plot = g.append("g").attr("clip-path", `url(#${clipId})`);

  if (cores[i].length) {
    plot.append("path")
      .datum(cores[i])
      .attr("d", d3.line().x(d => x(d[0])).y(d => y(d[1])).curve(d3.curveLinearClosed))
      .attr("fill", "#000")
      .attr("stroke", "#000")
      .attr("stroke-width", 9)
      .attr("stroke-linejoin", "round");
  }

  plot.selectAll("circle").data(pts).join("circle")
    .attr("cx", d => x(d[0]))
    .attr("cy", d => y(d[1]))
    .attr("r", 5.4)
    .attr("fill", "#000");

  // identity line y = x
  const lo = Math.min(xDom[0], yDom[0]) - 1, hi = Math.max(xDom[1], yDom[1]) + 1;
  plot.append("line")
    .attr("x1", x(lo)).attr("y1", y(lo))
    .attr("x2", x(hi)).attr("y2", y(hi))
    .attr("stroke", "#FF0000")
    .attr("stroke-width", 2.4);

  // titles
  g.append("text")
    .attr("x", L).attr("y", 41)
    .style("font-size", "34.8px")
    .attr("fill", "#000")
    .text(name);

  g.append("text")
    .attr("x", (L + R) / 2).attr("y", 575)
    .attr("text-anchor", "middle")
    .style("font-size", "29px")
    .attr("fill", "#000")
    .text("rsq-topsnpfromsusie");

  g.append("text")
    .attr("transform", `translate(39,${(T + B) / 2}) rotate(-90)`)
    .attr("text-anchor", "middle")
    .style("font-size", "29px")
    .attr("fill", "#000")
    .text("rsq-lasso-munro");
});
</script>
</body>
</html>
